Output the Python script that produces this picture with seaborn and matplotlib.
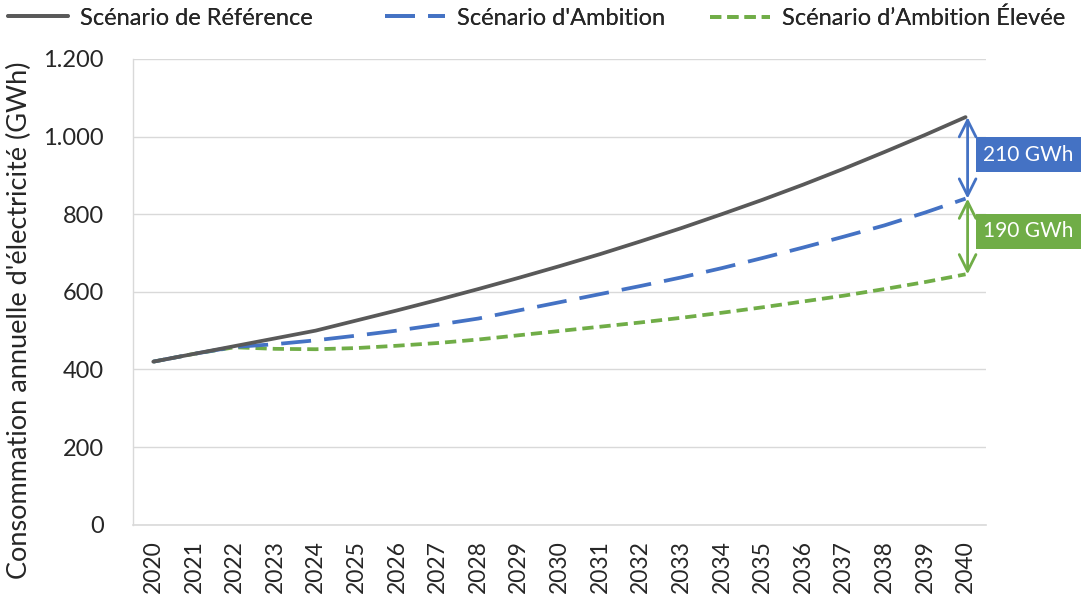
import numpy as np
import pandas as pd
import matplotlib
matplotlib.use("Agg")
import matplotlib.pyplot as plt
import seaborn as sns
from matplotlib.ticker import FuncFormatter, MultipleLocator

## data (GWh)
years = list(range(2020, 2041))
ref_vals = [420, 440, 460, 480, 500, 526, 552, 579, 607, 636, 666,
            697, 730, 764, 800, 837, 876, 917, 960, 1004, 1050]
amb_vals = [420, 440, 458, 465, 475, 487, 500, 515, 531, 552, 573,
            594, 615, 637, 661, 687, 714, 742, 771, 804, 840]
high_vals = [420, 440, 457, 453, 452, 455, 461, 468, 477, 488, 499,
             510, 521, 533, 546, 560, 575, 590, 607, 625, 645]
names = ["Scénario de Référence", "Scénario d'Ambition", "Scénario d\u2019Ambition Élevée"]
gap_labels = ["210 GWh", "190 GWh"]

colors = {names[0]: "#595959", names[1]: "#4472C4", names[2]: "#70AD47"}
dashes = {names[0]: "", names[1]: (8, 3.5), names[2]: (3, 1.6)}

df = pd.DataFrame({
    "year": years * 3,
    "value": ref_vals + amb_vals + high_vals,
    "scenario": [names[0]] * 21 + [names[1]] * 21 + [names[2]] * 21,
})

sns.set_style("white")
plt.rcParams['font.family'] = ['Lato', 'DejaVu Sans']

fig = plt.figure(figsize=(10.81, 6.01), dpi=100)
ax = fig.add_axes([0.123, 0.127, 0.789, 0.775])

# green first, then blue, grey on top
order = [names[2], names[1], names[0]]
for n in order:
    sub = df[df.scenario == n]
    sns.lineplot(data=sub, x="year", y="value", ax=ax, color=colors[n],
                 linewidth=2.7, legend=False, label=n)
    ln = ax.get_lines()[-1]
    if dashes[n]:
        ln.set_dashes(dashes[n])

ax.set_xlim(2019.5, 2040.5)
ax.set_ylim(0, 1200)
ax.yaxis.set_major_locator(MultipleLocator(200))
ax.yaxis.set_major_formatter(FuncFormatter(lambda v, p: f"{v:,.0f}".replace(",", ".")))
ax.set_xticks(years)
ax.set_xticklabels([str(y) for y in years], rotation=90, fontsize=16.5)
ax.set_xticks(np.arange(2019.5, 2041, 1), minor=True)
ax.tick_params(axis="x", which="major", length=0, pad=11)
ax.tick_params(axis="x", which="minor", length=6, color="#d9d9d9", width=1)
ax.tick_params(axis="y", length=6, color="#d9d9d9", width=1, labelsize=17, pad=15)
ax.grid(axis="y", color="#d9d9d9", linewidth=1)
ax.set_axisbelow(True)
for s in ["top", "right"]:
    ax.spines[s].set_visible(False)
ax.spines["left"].set_color("#d9d9d9")
ax.spines["bottom"].set_color("#d9d9d9")
ax.spines["left"].set_linewidth(1)
ax.spines["bottom"].set_linewidth(1.2)
ax.set_xlabel("")
ax.set_ylabel("Consommation annuelle d'électricité (GWh)", fontsize=19.5)
ax.yaxis.set_label_coords(-0.118, 0.438)

# gap arrows and boxes
arrow_x = 2040.05
ax.annotate("", xy=(arrow_x, ref_vals[-1]), xytext=(arrow_x, amb_vals[-1]),
            arrowprops=dict(arrowstyle="<->", color="#4472C4", lw=2, mutation_scale=30,
                            shrinkA=0, shrinkB=0), annotation_clip=False)
ax.annotate("", xy=(arrow_x, amb_vals[-1]), xytext=(arrow_x, high_vals[-1]),
            arrowprops=dict(arrowstyle="<->", color="#70AD47", lw=2, mutation_scale=30,
                            shrinkA=0, shrinkB=0), annotation_clip=False)
ax.text(2041.55, 953, gap_labels[0], color="white", fontsize=15, ha="center", va="center",
        clip_on=False, bbox=dict(boxstyle="square,pad=0.36", fc="#4472C4", ec="none"))
ax.text(2041.55, 756, gap_labels[1], color="white", fontsize=15, ha="center", va="center",
        clip_on=False, bbox=dict(boxstyle="square,pad=0.36", fc="#70AD47", ec="none"))

# legend at the top, one entry each so they sit where the reference has them
lines = {l.get_label(): l for l in ax.get_lines()}
leg_x = [8, 385, 710]
for n, x in zip(names, leg_x):
    lg = fig.legend([lines[n]], [n], loc="center left", bbox_to_anchor=(x / 1081, 0.970),
                    frameon=False, fontsize=17, handlelength=2.55, handletextpad=0.5,
                    borderpad=0, borderaxespad=0)
    fig.add_artist(lg)

fig.savefig("out.png", dpi=100)
